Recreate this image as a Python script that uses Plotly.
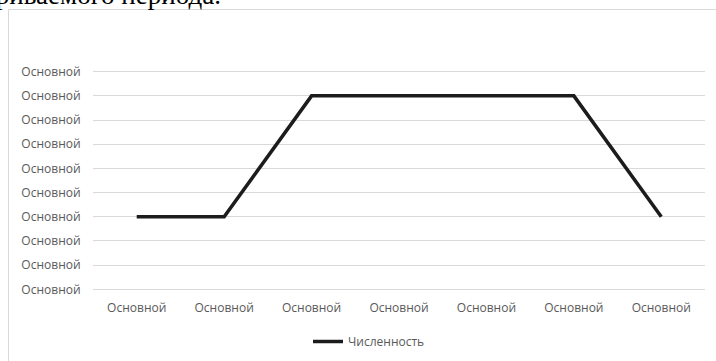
import plotly.graph_objects as go

categories = ["Основной"] * 7
values = [3, 3, 8, 8, 8, 8, 3]
y_ticks = list(range(10))
y_tick_labels = ["Основной"] * 10
series_name = "Численность"
title_text = "рассматриваемого периода."

W, H = 716, 361
L, R, T, B = 93, 11, 70, 70
pw = W - L - R
ph = H - T - B

def px_x(p):
    return (p - L) / pw

def px_y(p):
    return (H - B - p) / ph

fig = go.Figure()
fig.add_trace(go.Scatter(
    x=list(range(len(values))), y=values, mode="lines", name=series_name,
    line=dict(color="#1c1c1c", width=3.5), showlegend=True,
))

fig.update_layout(
    width=W, height=H,
    margin=dict(l=L, r=R, t=T, b=B, autoexpand=False),
    paper_bgcolor="white", plot_bgcolor="white",
    font=dict(family="Open Sans", size=12, color="#595959"),
    xaxis=dict(
        range=[-0.5, 6.5], tickmode="array", tickvals=list(range(7)), ticktext=categories,
        showgrid=False, zeroline=False, showline=False,
        ticks="outside", ticklen=6, tickcolor="rgba(0,0,0,0)",
        tickfont=dict(size=12, color="#595959"), fixedrange=True, automargin=False,
    ),
    yaxis=dict(
        range=[-0.07, 9.07], tickmode="array", tickvals=y_ticks, ticktext=y_tick_labels,
        showgrid=True, gridcolor="#d9d9d9", gridwidth=1, zeroline=False, showline=False,
        ticks="outside", ticklen=9, tickcolor="rgba(0,0,0,0)",
        tickfont=dict(size=12, color="#595959"), fixedrange=True, automargin=False,
    ),
    legend=dict(
        orientation="h", x=px_x(308), xanchor="left", y=px_y(327), yanchor="top",
        font=dict(size=12, color="#595959"), bgcolor="rgba(0,0,0,0)",
        itemwidth=30, tracegroupgap=0,
    ),
    showlegend=True,
)

fig.add_shape(
    type="rect", xref="paper", yref="paper",
    x0=px_x(8.5), x1=px_x(760), y0=px_y(400), y1=px_y(9.5),
    line=dict(color="#d9d9d9", width=1), fillcolor="rgba(0,0,0,0)", layer="below",
)

fig.add_annotation(
    text=title_text, xref="paper", yref="paper",
    x=px_x(223), xanchor="right", y=px_y(11.5), yanchor="bottom",
    showarrow=False, font=dict(family="Liberation Serif", size=27, color="black"),
)

fig.write_html("out.html", config={"displayModeBar": False})
